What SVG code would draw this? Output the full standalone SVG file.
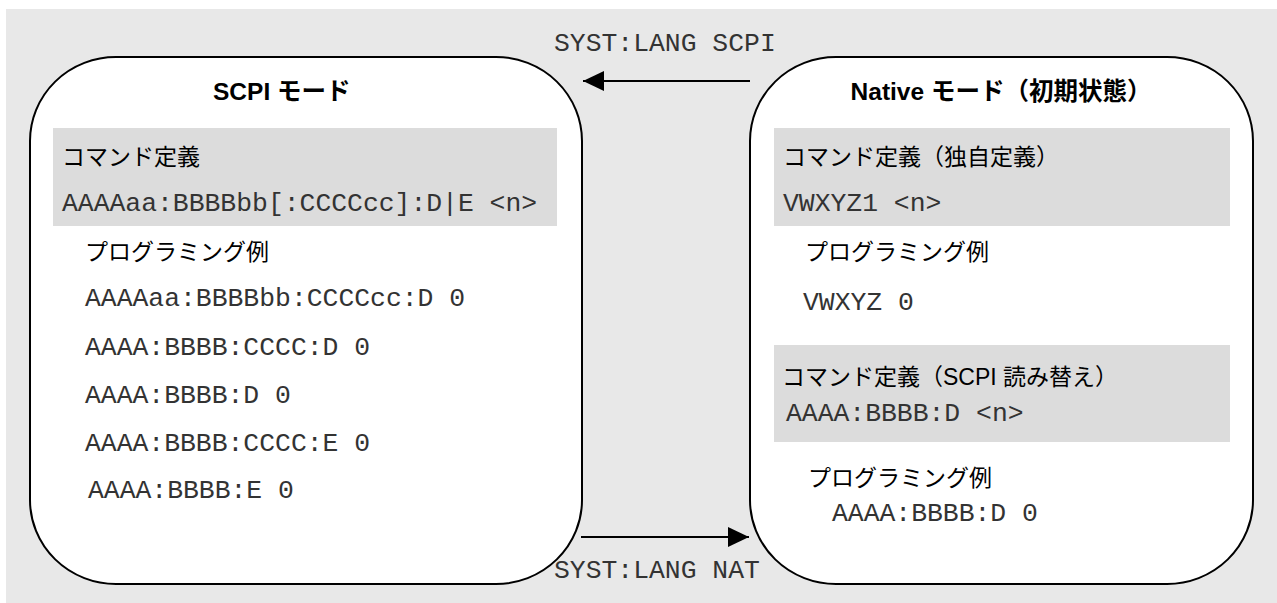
<svg xmlns="http://www.w3.org/2000/svg" width="1277" height="603" viewBox="0 0 1277 603">
<defs>
<style>
.jp{font-family:"Liberation Sans","Noto Sans CJK JP",sans-serif;font-size:23px;fill:#000}
.ttl{font-family:"Liberation Sans","Noto Sans CJK JP",sans-serif;font-size:24.5px;font-weight:bold;fill:#000}
.mono{font-family:"Liberation Mono","Courier New",monospace;font-size:26.4px;fill:#333}
.box{fill:#fff;stroke:#000;stroke-width:2}
.band{fill:#dcdcdc}
.conn{stroke:#000;stroke-width:2;fill:none}
</style>
<marker id="ah" viewBox="0 0 21 20" refX="21" refY="10" markerWidth="21" markerHeight="20" markerUnits="userSpaceOnUse" orient="auto">
<path d="M0,0 L21,10 L0,20 Z" fill="#000"/>
</marker>
</defs>
<rect x="6" y="9" width="1271" height="594" fill="#e8e8e8"/>
<g id="scpi-mode">
<rect class="box" x="30" y="57" width="552" height="527" rx="86" ry="84"/>
<text class="ttl" x="213" y="100">SCPI モード</text>
<rect class="band" x="53" y="128" width="504" height="98"/>
<text class="jp" x="62" y="165">コマンド定義</text>
<text class="mono" x="62" y="211">AAAAaa:BBBBbb[:CCCCcc]:D|E &lt;n&gt;</text>
<text class="jp" x="85" y="260">プログラミング例</text>
<text class="mono" x="85" y="306">AAAAaa:BBBBbb:CCCCcc:D 0</text>
<text class="mono" x="85" y="355">AAAA:BBBB:CCCC:D 0</text>
<text class="mono" x="85" y="403">AAAA:BBBB:D 0</text>
<text class="mono" x="85" y="451">AAAA:BBBB:CCCC:E 0</text>
<text class="mono" x="88" y="498">AAAA:BBBB:E 0</text>
</g>
<g id="native-mode">
<rect class="box" x="750" y="57" width="503" height="527" rx="86" ry="84"/>
<text class="ttl" x="1001" y="100" text-anchor="middle">Native モード（初期状態）</text>
<rect class="band" x="774" y="128" width="456" height="98"/>
<text class="jp" x="783" y="165">コマンド定義（独自定義）</text>
<text class="mono" x="783" y="211">VWXYZ1 &lt;n&gt;</text>
<text class="jp" x="805" y="260">プログラミング例</text>
<text class="mono" x="803" y="310">VWXYZ 0</text>
<rect class="band" x="774" y="345" width="456" height="97"/>
<text class="jp" x="782" y="385">コマンド定義（SCPI 読み替え）</text>
<text class="mono" x="786" y="421">AAAA:BBBB:D &lt;n&gt;</text>
<text class="jp" x="808" y="486">プログラミング例</text>
<text class="mono" x="832" y="521">AAAA:BBBB:D 0</text>
</g>
<g id="connectors">
<line class="conn" x1="750" y1="81" x2="583" y2="81" marker-end="url(#ah)"/>
<text class="mono" x="554" y="51">SYST:LANG SCPI</text>
<line class="conn" x1="581" y1="537" x2="749" y2="537" marker-end="url(#ah)"/>
<text class="mono" x="554" y="578">SYST:LANG NAT</text>
</g>
</svg>
